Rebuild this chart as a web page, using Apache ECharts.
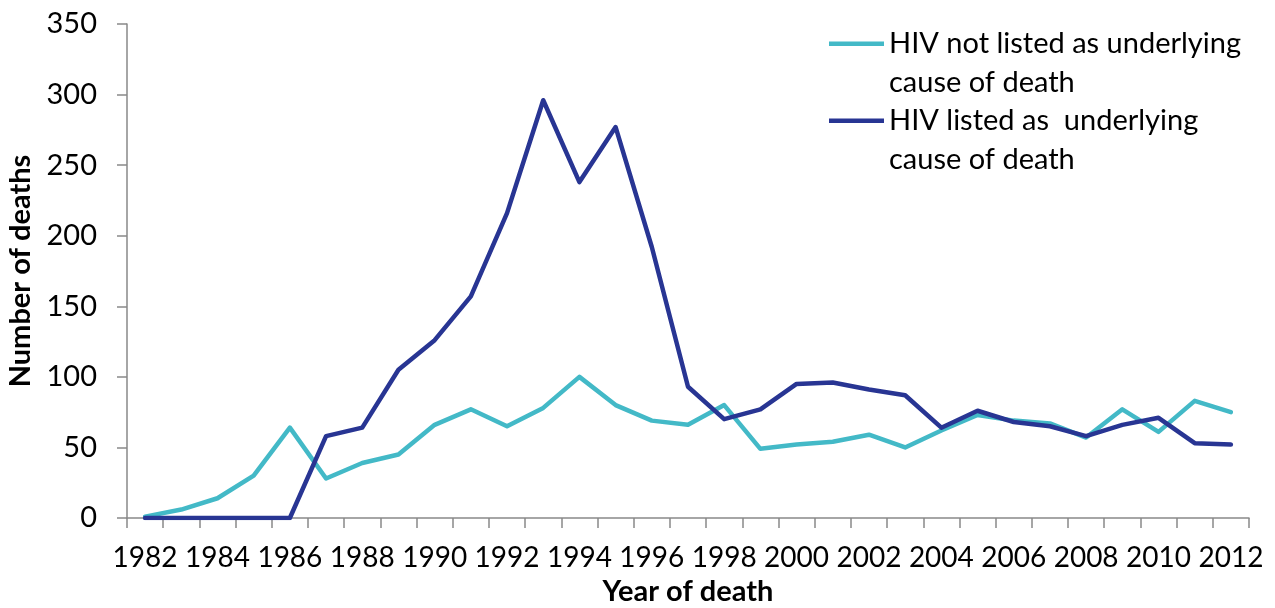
<!DOCTYPE html>
<html>
<head>
<meta charset="utf-8">
<script src="https://cdn.jsdelivr.net/npm/echarts@6/dist/echarts.min.js"></script>
<style>
  html, body { margin: 0; padding: 0; background: #fff; }
  #chart { width: 1275px; height: 608px; }
</style>
</head>
<body>
<div id="chart"></div>
<script>
const years = []
for (let y = 1982; y <= 2012; y++) years.push(String(y))

const notListed = [1, 6, 14, 30, 64, 28, 39, 45, 66, 77, 65, 78, 100, 80, 69, 66, 80, 49, 52, 54, 59, 50, 62, 73, 69, 67, 57, 77, 61, 83, 75]
const listed = [0, 0, 0, 0, 0, 58, 64, 105, 126, 157, 216, 296, 238, 277, 192, 93, 70, 77, 95, 96, 91, 87, 64, 76, 68, 65, 58, 66, 71, 53, 52]

const seriesNames = ['HIV not listed as underlying cause of death', 'HIV listed as  underlying cause of death']
const colors = ['#43b9c7', '#283593']

const font = 'Lato, "Open Sans", sans-serif'
const axisGrey = '#898989'

const chart = echarts.init(document.getElementById('chart'))

chart.setOption({
  animation: false,
  color: colors,
  textStyle: { fontFamily: font },
  grid: { left: 127, right: 26, top: 24, bottom: 90, outerBoundsMode: 'none', containLabel: false },
  legend: {
    orient: 'vertical',
    left: 829,
    top: 24.5,
    padding: 0,
    itemGap: 0,
    itemWidth: 55,
    itemHeight: 77,
    symbolKeepAspect: false,
    // bar sits on the first text line, the tiny corner dots only pin the box to 55x77
    icon: 'path://M0,0 L0.01,0 L0.01,0.01 Z M0,17 L55,17 L55,21.5 L0,21.5 Z M0,77 L0.01,77 L0.01,76.99 Z',
    itemStyle: { borderWidth: 0 },
    selectedMode: false,
    formatter: (name) => name.replace(' cause', '\ncause'),
    textStyle: { fontFamily: font, fontSize: 29, color: '#000', lineHeight: 38.5 },
    data: seriesNames,
  },
  xAxis: {
    type: 'category',
    data: years,
    boundaryGap: true,
    name: 'Year of death',
    nameLocation: 'middle',
    nameGap: 58,
    nameTextStyle: { fontFamily: font, fontSize: 29, fontWeight: 'bold', color: '#000' },
    axisLine: { lineStyle: { color: axisGrey, width: 1.5 } },
    axisTick: { show: true, interval: 0, length: 10, lineStyle: { color: axisGrey, width: 1.5 } },
    axisLabel: { interval: 1, margin: 26, fontSize: 28, color: '#000', fontFamily: font, hideOverlap: false },
  },
  yAxis: {
    type: 'value',
    min: 0,
    max: 350,
    interval: 50,
    name: 'Number of deaths',
    nameLocation: 'middle',
    nameGap: 92,
    nameTextStyle: { fontFamily: font, fontSize: 29, fontWeight: 'bold', color: '#000' },
    axisLine: { show: true, lineStyle: { color: axisGrey, width: 1.5 } },
    axisTick: { show: true, length: 10, lineStyle: { color: axisGrey, width: 1.5 } },
    axisLabel: { margin: 30, fontSize: 29, color: '#000', fontFamily: font },
    splitLine: { show: false },
  },
  series: [
    {
      name: seriesNames[0],
      type: 'line',
      data: notListed,
      showSymbol: false,
      symbol: 'none',
      lineStyle: { width: 4.5, color: colors[0], cap: 'round', join: 'round' },
    },
    {
      name: seriesNames[1],
      type: 'line',
      data: listed,
      showSymbol: false,
      symbol: 'none',
      lineStyle: { width: 4.5, color: colors[1], cap: 'round', join: 'round' },
    },
  ],
})
</script>
</body>
</html>
